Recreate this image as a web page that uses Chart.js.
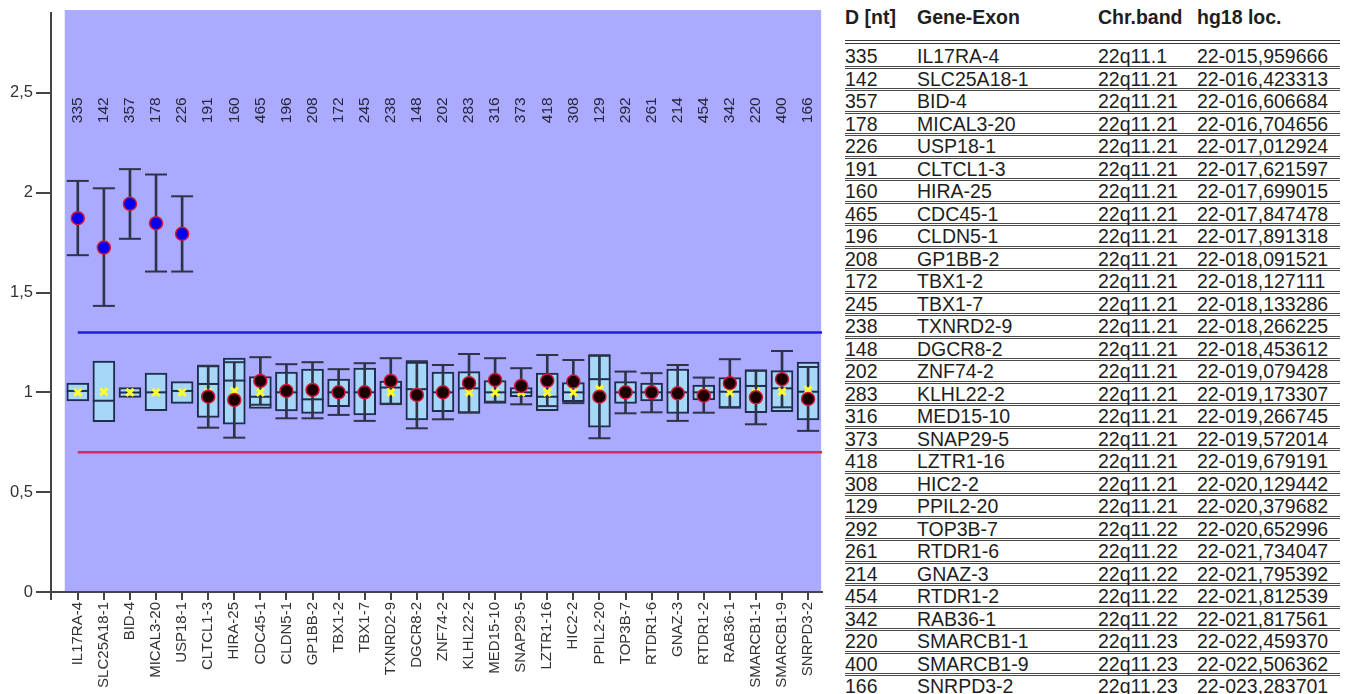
<!DOCTYPE html>
<html>
<head>
<meta charset="utf-8">
<script src="https://cdn.jsdelivr.net/npm/chart.js@4.4.1/dist/chart.umd.min.js"></script>
<style>
    body { margin: 0; background: #fff; width: 1345px; height: 694px; overflow: hidden; position: relative;
           font-family: "Liberation Sans", Arial, sans-serif; }
    #chartBox { position: absolute; left: 0; top: 0; width: 835px; height: 694px; }
    #tbl { position: absolute; left: 845px; top: 0; width: 495px; color: #1e1e1e; }
    .row { display: flex; align-items: center; box-sizing: border-box; height: 22.5px; padding-top: 2px;
           border-bottom: 3px double #4a4a4a; font-size: 19.5px; line-height: 1; white-space: nowrap; }
    .hdr { height: 44px; padding-top: 0; padding-bottom: 5px; font-weight: bold; border-bottom: 4px double #3a3a3a;
           margin-bottom: 2px; }
    .c1 { width: 72px; }
    .c2 { width: 181px; }
    .c3 { width: 99px; }
</style>
</head>
<body>
<div id="chartBox"><canvas id="ratioChart" width="835" height="694"></canvas></div>
<div id="tbl"></div>
<script>
const genes = [
    'IL17RA-4', 'SLC25A18-1', 'BID-4', 'MICAL3-20', 'USP18-1', 'CLTCL1-3', 'HIRA-25', 'CDC45-1',
    'CLDN5-1', 'GP1BB-2', 'TBX1-2', 'TBX1-7', 'TXNRD2-9', 'DGCR8-2', 'ZNF74-2', 'KLHL22-2',
    'MED15-10', 'SNAP29-5', 'LZTR1-16', 'HIC2-2', 'PPIL2-20', 'TOP3B-7', 'RTDR1-6', 'GNAZ-3',
    'RTDR1-2', 'RAB36-1', 'SMARCB1-1', 'SMARCB1-9', 'SNRPD3-2'
];
const lengthsNt = [335, 142, 357, 178, 226, 191, 160, 465, 196, 208, 172, 245, 238, 148, 202, 283,
    316, 373, 418, 308, 129, 292, 261, 214, 454, 342, 220, 400, 166];
const bands = ['22q11.1', '22q11.21', '22q11.21', '22q11.21', '22q11.21', '22q11.21', '22q11.21', '22q11.21',
    '22q11.21', '22q11.21', '22q11.21', '22q11.21', '22q11.21', '22q11.21', '22q11.21', '22q11.21',
    '22q11.21', '22q11.21', '22q11.21', '22q11.21', '22q11.21', '22q11.22', '22q11.22', '22q11.22',
    '22q11.22', '22q11.22', '22q11.23', '22q11.23', '22q11.23'];
const locations = ['22-015,959666', '22-016,423313', '22-016,606684', '22-016,704656', '22-017,012924',
    '22-017,621597', '22-017,699015', '22-017,847478', '22-017,891318', '22-018,091521', '22-018,127111',
    '22-018,133286', '22-018,266225', '22-018,453612', '22-019,079428', '22-019,173307', '22-019,266745',
    '22-019,572014', '22-019,679191', '22-020,129442', '22-020,379682', '22-020,652996', '22-021,734047',
    '22-021,795392', '22-021,812539', '22-021,817561', '22-022,459370', '22-022,506362', '22-023,283701'];

// reference distribution (box) per probe
const refQ1 = [0.957, 0.853, 0.975, 0.908, 0.945, 0.875, 0.840, 0.920, 0.907, 0.895, 0.928, 0.887, 0.937, 0.862,
    0.903, 0.895, 0.945, 0.978, 0.908, 0.953, 0.825, 0.945, 0.957, 0.895, 0.962, 0.920, 0.898, 0.903, 0.862];
const refQ3 = [1.046, 1.157, 1.024, 1.096, 1.054, 1.134, 1.171, 1.079, 1.101, 1.116, 1.067, 1.121, 1.057, 1.151,
    1.101, 1.104, 1.059, 1.024, 1.096, 1.049, 1.187, 1.054, 1.046, 1.116, 1.037, 1.074, 1.112, 1.109, 1.151];
const refMedian = [1.007, 0.958, 0.999, 1.0, 1.007, 1.042, 1.059, 0.978, 1.0, 0.965, 1.0, 1.0, 1.024, 1.016,
    1.0, 1.020, 1.0, 1.0, 0.978, 1.0, 1.066, 1.0, 1.0, 1.0, 1.0, 1.003, 1.032, 1.020, 1.003];
const refMean = [1.0, 1.003, 1.0, 1.0, 1.0, 1.0, 1.007, 1.0, 1.0, 1.0, 1.0, 1.0, 1.0, 1.0,
    1.0, 1.0, 1.0, 1.0, 1.0, 1.0, 1.016, 1.0, 1.0, 1.0, 1.0, 1.0, 1.0, 1.003, 1.012];

// patient sample: mean and error bar ends
const sampleMean = [1.872, 1.725, 1.944, 1.847, 1.794, 0.978, 0.962, 1.057, 1.007, 1.012, 1.0, 1.0, 1.057, 0.987,
    1.0, 1.046, 1.062, 1.032, 1.059, 1.054, 0.978, 1.0, 1.0, 0.995, 0.983, 1.046, 0.975, 1.066, 0.967];
const sampleLow = [1.687, 1.433, 1.769, 1.605, 1.605, 0.823, 0.773, 0.938, 0.870, 0.870, 0.887, 0.857, 0.943, 0.820,
    0.865, 0.900, 0.953, 0.940, 0.931, 0.946, 0.770, 0.895, 0.900, 0.857, 0.898, 0.926, 0.840, 0.925, 0.807];
const sampleHigh = [2.059, 2.022, 2.118, 2.091, 1.982, 1.133, 1.151, 1.176, 1.141, 1.151, 1.116, 1.146, 1.171, 1.156,
    1.137, 1.192, 1.171, 1.121, 1.187, 1.162, 1.186, 1.104, 1.096, 1.137, 1.074, 1.166, 1.110, 1.207, 1.127];

const upperLimit = 1.3;
const lowerLimit = 0.7;
const yTicks = [0, 0.5, 1, 1.5, 2, 2.5];

// table on the right
let html = '<div class="row hdr"><span class="c1">D [nt]</span><span class="c2">Gene-Exon</span>' +
    '<span class="c3">Chr.band</span><span>hg18 loc.</span></div>';
genes.forEach((g, i) => {
    html += '<div class="row"><span class="c1">' + lengthsNt[i] + '</span><span class="c2">' + g +
        '</span><span class="c3">' + bands[i] + '</span><span>' + locations[i] + '</span></div>';
});
document.getElementById('tbl').innerHTML = html;

const pts = (arr) => arr.map((v, i) => ({ x: i, y: v }));
// limit lines run from the first probe to the right edge of the last bin
const limitLine = (level) => pts(genes.map(() => level)).concat([{ x: genes.length - 0.45, y: level }]);
const xMin = -1.027;
const xMax = 28.533;

const plotBackground = {
    id: 'plotBackground',
    beforeDraw(chart) {
        const { ctx, chartArea, scales: { x } } = chart;
        const left = x.getPixelForValue(-0.5);
        const right = x.getPixelForValue(genes.length - 0.5);
        ctx.save();
        ctx.fillStyle = '#aaaaff';
        ctx.fillRect(left, chartArea.top - 3, right - left, chartArea.bottom - chartArea.top + 3);
        ctx.restore();
    },
    afterDatasetsDraw(chart) {
        const { ctx, scales: { x, y } } = chart;
        ctx.save();
        ctx.fillStyle = '#26263e';
        ctx.font = '15.5px "Liberation Sans", Arial, sans-serif';
        ctx.textAlign = 'center';
        ctx.textBaseline = 'middle';
        lengthsNt.forEach((n, i) => {
            ctx.save();
            ctx.translate(x.getPixelForValue(i), y.getPixelForValue(2.413));
            ctx.rotate(-Math.PI / 2);
            ctx.fillText(String(n), 0, 0);
            ctx.restore();
        });
        ctx.restore();
    }
};

const ctx = document.getElementById('ratioChart').getContext('2d');
const ratioChart = new Chart(ctx, {
    type: 'bar',
    data: {
        datasets: [
            {
                type: 'line',
                data: limitLine(upperLimit),
                borderColor: '#1f1fd2',
                borderWidth: 2.5,
                pointRadius: 0,
                order: 20
            },
            {
                type: 'line',
                data: limitLine(lowerLimit),
                borderColor: '#e0284f',
                borderWidth: 2.5,
                pointRadius: 0,
                order: 20
            },
            {
                data: genes.map((g, i) => ({ x: i, y: [refQ1[i], refQ3[i]] })),
                backgroundColor: '#a6d6f8',
                borderColor: '#1f2d4d',
                borderWidth: 2,
                borderSkipped: false,
                barThickness: 22,
                grouped: false,
                order: 10
            },
            {
                type: 'line',
                data: pts(refMedian),
                showLine: false,
                pointStyle: 'line',
                pointRadius: 11,
                pointBorderColor: '#1f2d4d',
                pointBorderWidth: 2,
                order: 9
            },
            {
                data: genes.map((g, i) => ({ x: i, y: [sampleLow[i], sampleHigh[i]] })),
                backgroundColor: '#2e3448',
                borderWidth: 0,
                barThickness: 2,
                grouped: false,
                order: 8
            },
            {
                type: 'line',
                data: pts(sampleLow),
                showLine: false,
                pointStyle: 'line',
                pointRadius: 11,
                pointBorderColor: '#2e3448',
                pointBorderWidth: 2,
                order: 7
            },
            {
                type: 'line',
                data: pts(sampleHigh),
                showLine: false,
                pointStyle: 'line',
                pointRadius: 11,
                pointBorderColor: '#2e3448',
                pointBorderWidth: 2,
                order: 7
            },
            {
                type: 'line',
                data: pts(refMean),
                showLine: false,
                pointStyle: 'crossRot',
                pointRadius: 5,
                pointBorderColor: '#ffff2a',
                pointBorderWidth: 3,
                order: 6
            },
            {
                type: 'line',
                data: pts(sampleMean),
                showLine: false,
                pointStyle: 'circle',
                pointRadius: 6.5,
                pointBackgroundColor: sampleMean.map(v => v > upperLimit ? '#0000f0' : '#1a0000'),
                pointBorderColor: '#d4143c',
                pointBorderWidth: 1.5,
                order: 5
            }
        ]
    },
    options: {
        responsive: false,
        animation: false,
        events: [],
        layout: { padding: { left: 0, top: 13, right: 7, bottom: 0 } },
        plugins: {
            legend: { display: false },
            tooltip: { enabled: false }
        },
        scales: {
            x: {
                type: 'linear',
                offset: false,
                min: xMin,
                max: xMax,
                afterBuildTicks: (axis) => {
                    axis.ticks = [{ value: xMin }].concat(genes.map((g, i) => ({ value: i })));
                },
                afterFit: (axis) => {
                    axis.height = 102;
                    axis.paddingLeft = 0;
                    axis.paddingRight = 0;
                },
                ticks: {
                    autoSkip: false,
                    minRotation: 90,
                    maxRotation: 90,
                    padding: 2,
                    color: '#333',
                    font: { family: '"Liberation Sans", Arial, sans-serif', size: 15 },
                    callback: (v) => genes[v] !== undefined ? genes[v] : ''
                },
                grid: { offset: false, drawOnChartArea: false, tickLength: 8, color: '#444', lineWidth: 2 },
                border: { color: '#444', width: 2 }
            },
            y: {
                min: 0,
                max: 2.9,
                afterBuildTicks: (axis) => {
                    axis.ticks = yTicks.map(v => ({ value: v }));
                },
                afterFit: (axis) => {
                    axis.width = 51;
                    axis.paddingTop = 0;
                    axis.paddingBottom = 0;
                },
                ticks: {
                    padding: 3,
                    color: '#333',
                    font: { family: '"Liberation Sans", Arial, sans-serif', size: 16.5 },
                    callback: (v) => String(v).replace('.', ',')
                },
                grid: { drawOnChartArea: false, tickLength: 15, color: '#444', lineWidth: 2 },
                border: { color: '#444', width: 2 }
            }
        }
    },
    plugins: [plotBackground]
});
</script>
</body>
</html>
